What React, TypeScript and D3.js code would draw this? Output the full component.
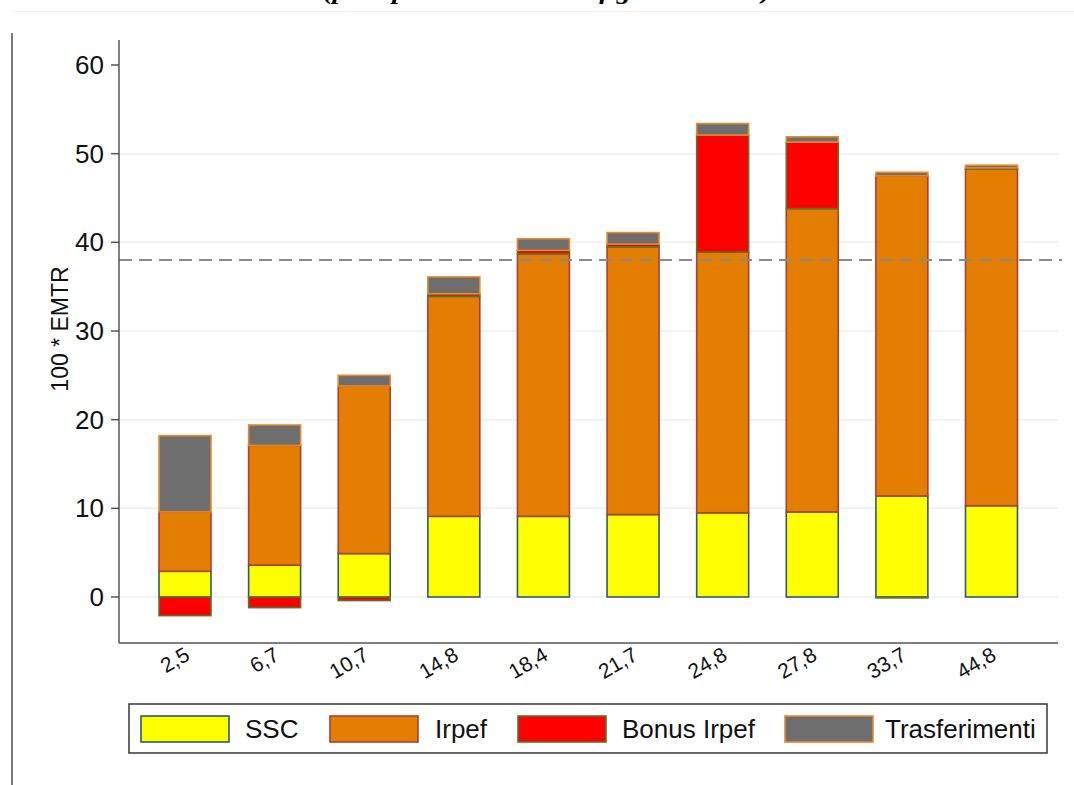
import React from 'react';
import * as d3 from 'd3';

const categories = ['2,5', '6,7', '10,7', '14,8', '18,4', '21,7', '24,8', '27,8', '33,7', '44,8'];
const ssc = [2.9, 3.6, 4.9, 9.1, 9.1, 9.3, 9.5, 9.6, 11.4, 10.3];
const irpef = [6.7, 13.5, 18.9, 24.8, 29.6, 30.2, 29.4, 34.2, 36.1, 38.0];
const bonusIrpef = [-2.1, -1.2, -0.4, 0.3, 0.4, 0.3, 13.2, 7.5, -0.1, 0.1];
const trasferimenti = [8.6, 2.3, 1.2, 1.9, 1.3, 1.3, 1.3, 0.6, 0.4, 0.3];
const yTicks = [0, 10, 20, 30, 40, 50, 60];
const gridTicks = [0, 10, 20, 30, 40, 50];
const refLine = 38;
const seriesNames = ['SSC', 'Irpef', 'Bonus Irpef', 'Trasferimenti'];
const titleText = '(per i percettori con un figlio a carico)';
const yLabel = '100 * EMTR';

const fills = ['#ffff00', '#e37e00', '#ff0000', '#6e6e6e'];
const strokes = ['#2d5a6e', '#a8403a', '#55752f', '#e8882a'];

const W = 1074;
const H = 785;
const plotLeft = 119;
const plotRight = 1058;
const plotBottom = 643;

export default function App() {
  const rows = categories.map((c, i) => ({
    cat: c,
    'SSC': ssc[i],
    'Irpef': irpef[i],
    'Bonus Irpef': bonusIrpef[i],
    'Trasferimenti': trasferimenti[i],
  }));
  const stack = d3.stack<any>().keys(seriesNames).offset(d3.stackOffsetDiverging);
  const layers = stack(rows);

  const x = d3.scaleBand<string>().domain(categories).range([140.2, 1036.3]).paddingInner(0.42).paddingOuter(0.21);
  const y = d3.scaleLinear().domain([0, 60]).range([597, 65]);

  const font = '"Liberation Sans", Arial, Helvetica, sans-serif';

  const legendSwatchX = [141, 330, 518, 785];
  const legendTextX = [245, 435, 622, 885];

  return (
    <svg width={W} height={H} style={{ position: 'absolute', left: 0, top: 0, background: '#fff' }}>
      <rect x={0} y={0} width={W} height={H} fill="#fff" />
      {/* title (cut off at top, as in the reference) */}
      <text x={323} y={-1} fontFamily='"Liberation Serif", "Times New Roman", serif' fontWeight="bold" fontStyle="italic" fontSize={23} textLength={448} lengthAdjust="spacingAndGlyphs">{titleText}</text>
      <line x1={12} x2={W} y1={11.5} y2={11.5} stroke="#f2f2f2" strokeWidth={1} />
      <line x1={12} x2={12} y1={33} y2={H} stroke="#222" strokeWidth={1.2} />

      {/* grid */}
      {gridTicks.map(t => (
        <line key={t} x1={plotLeft} x2={plotRight} y1={y(t)} y2={y(t)} stroke="#eaf2f3" strokeWidth={1.5} />
      ))}

      {/* bars */}
      {layers.map((layer, li) => (
        <g key={layer.key}>
          {layer.map((d, i) => {
            const y0 = y(d[0]);
            const y1 = y(d[1]);
            const top = Math.min(y0, y1);
            const h = Math.abs(y0 - y1);
            return (
              <rect key={i} x={x(categories[i])} y={top} width={x.bandwidth()} height={h}
                fill={fills[li]} stroke={strokes[li]} strokeWidth={1.6} />
            );
          })}
        </g>
      ))}

      {/* reference line */}
      <line x1={plotLeft} x2={1062} y1={y(refLine)} y2={y(refLine)} stroke="#8a8a8a" strokeWidth={2} strokeDasharray="13,7" />

      {/* axes */}
      <line x1={plotLeft} x2={plotLeft} y1={40} y2={plotBottom} stroke="#555" strokeWidth={1.5} />
      <line x1={plotLeft} x2={plotRight} y1={plotBottom} y2={plotBottom} stroke="#555" strokeWidth={1.5} />
      {yTicks.map(t => (
        <g key={t}>
          <line x1={plotLeft - 8} x2={plotLeft} y1={y(t)} y2={y(t)} stroke="#555" strokeWidth={1.5} />
          <text x={plotLeft - 15} y={y(t)} dy="0.35em" textAnchor="end" fontFamily={font} fontSize={26} fill="#111">{t}</text>
        </g>
      ))}
      <text transform={`translate(68,${329}) rotate(-90)`} textAnchor="middle" fontFamily={font} fontSize={23} fill="#111">{yLabel}</text>

      {categories.map(c => (
        <text key={c} transform={`translate(${(x(c) as number) + x.bandwidth() / 2 + 6},${659}) rotate(-30)`}
          textAnchor="end" fontFamily={font} fontSize={21} fill="#111">{c}</text>
      ))}

      {/* legend */}
      <rect x={129} y={704} width={918} height={49} fill="#fff" stroke="#444" strokeWidth={1.6} />
      {seriesNames.map((s, i) => (
        <g key={s}>
          <rect x={legendSwatchX[i]} y={716} width={88} height={26} fill={fills[i]} stroke={strokes[i]} strokeWidth={1.6} />
          <text x={legendTextX[i]} y={738} fontFamily={font} fontSize={26} fill="#111">{s}</text>
        </g>
      ))}
    </svg>
  );
}
